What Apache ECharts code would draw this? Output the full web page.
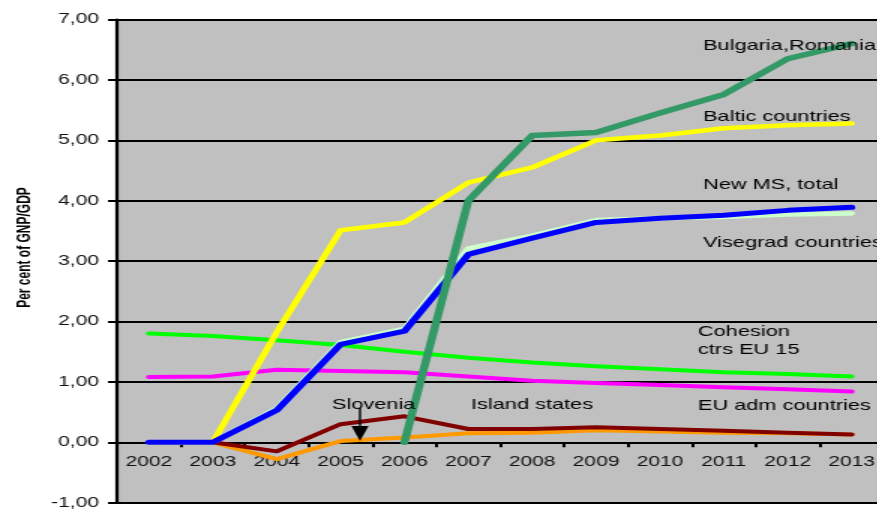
<!DOCTYPE html>
<html>
<head>
<meta charset="utf-8">
<script src="https://cdn.jsdelivr.net/npm/echarts@6/dist/echarts.min.js"></script>
<style>
  html, body { margin: 0; padding: 0; background: #fff; overflow: hidden; }
  #wrap { width: 877px; height: 509px; overflow: hidden; }
  /* chart is laid out narrow and widened horizontally */
  #chart { width: 585px; height: 509px; transform: scaleX(1.5); transform-origin: 0 0; }
</style>
</head>
<body>
<div id="wrap"><div id="chart"></div></div>
<script>
// Years on the horizontal axis
const years = ['2002', '2003', '2004', '2005', '2006', '2007', '2008', '2009', '2010', '2011', '2012', '2013'];

// Per cent of GNP/GDP by country group
const cohesion  = [1.80, 1.76, 1.69, 1.61, 1.50, 1.40, 1.32, 1.26, 1.21, 1.16, 1.13, 1.09];
const euAdm     = [1.08, 1.09, 1.20, 1.18, 1.16, 1.09, 1.02, 0.98, 0.95, 0.91, 0.88, 0.84];
const island    = [0, 0, -0.28, 0.02, 0.08, 0.15, 0.16, 0.20, 0.18, 0.16, 0.15, 0.13];
const slovenia  = [0, 0, -0.15, 0.30, 0.43, 0.22, 0.22, 0.25, 0.22, 0.19, 0.16, 0.13];
const baltic    = [0, 0, 1.82, 3.51, 3.64, 4.30, 4.55, 5.00, 5.08, 5.20, 5.25, 5.28];
const visegrad  = [0, 0, 0.56, 1.66, 1.88, 3.21, 3.42, 3.68, 3.71, 3.73, 3.77, 3.79];
const newMS     = [0, 0, 0.53, 1.62, 1.84, 3.11, 3.38, 3.64, 3.71, 3.76, 3.84, 3.89];
const bulRom    = [null, null, null, null, 0, 4.00, 5.08, 5.13, 5.45, 5.76, 6.35, 6.60];

// Y axis range and tick labels (decimal comma)
const yTicks = { min: -1, max: 7, step: 1 };
const fmtComma = v => v.toFixed(2).replace('.', ',');

const FONT = '"Liberation Sans", Arial, sans-serif';

// Plot box inside the chart element
const box = { left: 78, right: -4, top: 19.5, bottom: 6.3 };
const chartHeight = 509;
const plotHeight = chartHeight - box.top - box.bottom;
// lift the category axis from the bottom edge up to the zero line
const zeroLift = plotHeight * (0 - yTicks.min) / (yTicks.max - yTicks.min);

function line(name, data, color, width, z) {
  return {
    name, type: 'line', data, z,
    symbol: 'none', smooth: false, connectNulls: false,
    lineStyle: { color, width, cap: 'round', join: 'round' },
    itemStyle: { color },
    emphasis: { disabled: true }
  };
}

function label(text, x, y) {
  return {
    type: 'text', x, y, z: 50,
    style: { text, font: '14.5px ' + FONT, fill: '#000', verticalAlign: 'middle' }
  };
}

const chart = echarts.init(document.getElementById('chart'), null, { renderer: 'canvas' });

chart.setOption({
  animation: false,
  backgroundColor: '#fff',
  grid: {
    left: box.left, right: box.right, top: box.top, bottom: box.bottom,
    outerBoundsMode: 'none',
    containLabel: false,
    show: true, backgroundColor: '#c0c0c0', borderWidth: 0
  },
  xAxis: {
    type: 'category',
    data: years,
    position: 'bottom',
    offset: -zeroLift,
    boundaryGap: true,
    axisLine: { onZero: false, lineStyle: { color: '#000', width: 2 } },
    axisTick: { show: true, length: 5, lineStyle: { color: '#000', width: 2 } },
    axisLabel: { color: '#111', fontSize: 14, fontFamily: FONT, margin: 13, interval: 0 },
    splitLine: { show: false }
  },
  yAxis: {
    type: 'value',
    min: yTicks.min, max: yTicks.max, interval: yTicks.step,
    axisLine: { show: true, lineStyle: { color: '#000', width: 2.2 } },
    axisTick: { show: true, length: 6, lineStyle: { color: '#000', width: 2 } },
    axisLabel: { color: '#111', fontSize: 14, fontFamily: FONT, margin: 12, formatter: fmtComma },
    splitLine: { show: true, lineStyle: { color: '#000', width: 2 } }
  },
  series: [
    line('Cohesion ctrs EU 15', cohesion, '#00ff00', 4, 2),
    line('EU adm countries', euAdm, '#ff00ff', 4, 3),
    line('Island states', island, '#ff9900', 4, 4),
    line('Slovenia', slovenia, '#800000', 4, 5),
    line('Baltic countries', baltic, '#ffff00', 4.5, 6),
    line('Visegrad countries', visegrad, '#ccffcc', 4.5, 7),
    line('New MS, total', newMS, '#0000ff', 5, 8),
    line('Bulgaria,Romania', bulRom, '#339966', 5.5, 9)
  ],
  graphic: [
    {
      type: 'text', x: 16.7, y: 247.5, rotation: Math.PI / 2, z: 50,
      style: {
        text: 'Per cent of GNP/GDP', font: 'bold 12px ' + FONT, fill: '#000',
        align: 'center', verticalAlign: 'middle'
      }
    },
    label('Bulgaria,Romania', 468.7, 46),
    label('Baltic countries', 468.7, 117),
    label('New MS, total', 468.7, 185),
    label('Visegrad countries', 468.7, 243),
    label('Cohesion', 465.3, 332),
    label('ctrs EU 15', 465.3, 350),
    label('EU adm countries', 465.3, 406),
    label('Island states', 314, 405),
    label('Slovenia', 221.3, 405),
    {
      type: 'line', z: 50,
      shape: { x1: 240, y1: 408, x2: 240, y2: 429 },
      style: { stroke: '#000', lineWidth: 1.4 }
    },
    {
      type: 'polygon', z: 50,
      shape: { points: [[234.3, 426], [245.7, 426], [240, 441]] },
      style: { fill: '#000' }
    }
  ]
});
</script>
</body>
</html>
